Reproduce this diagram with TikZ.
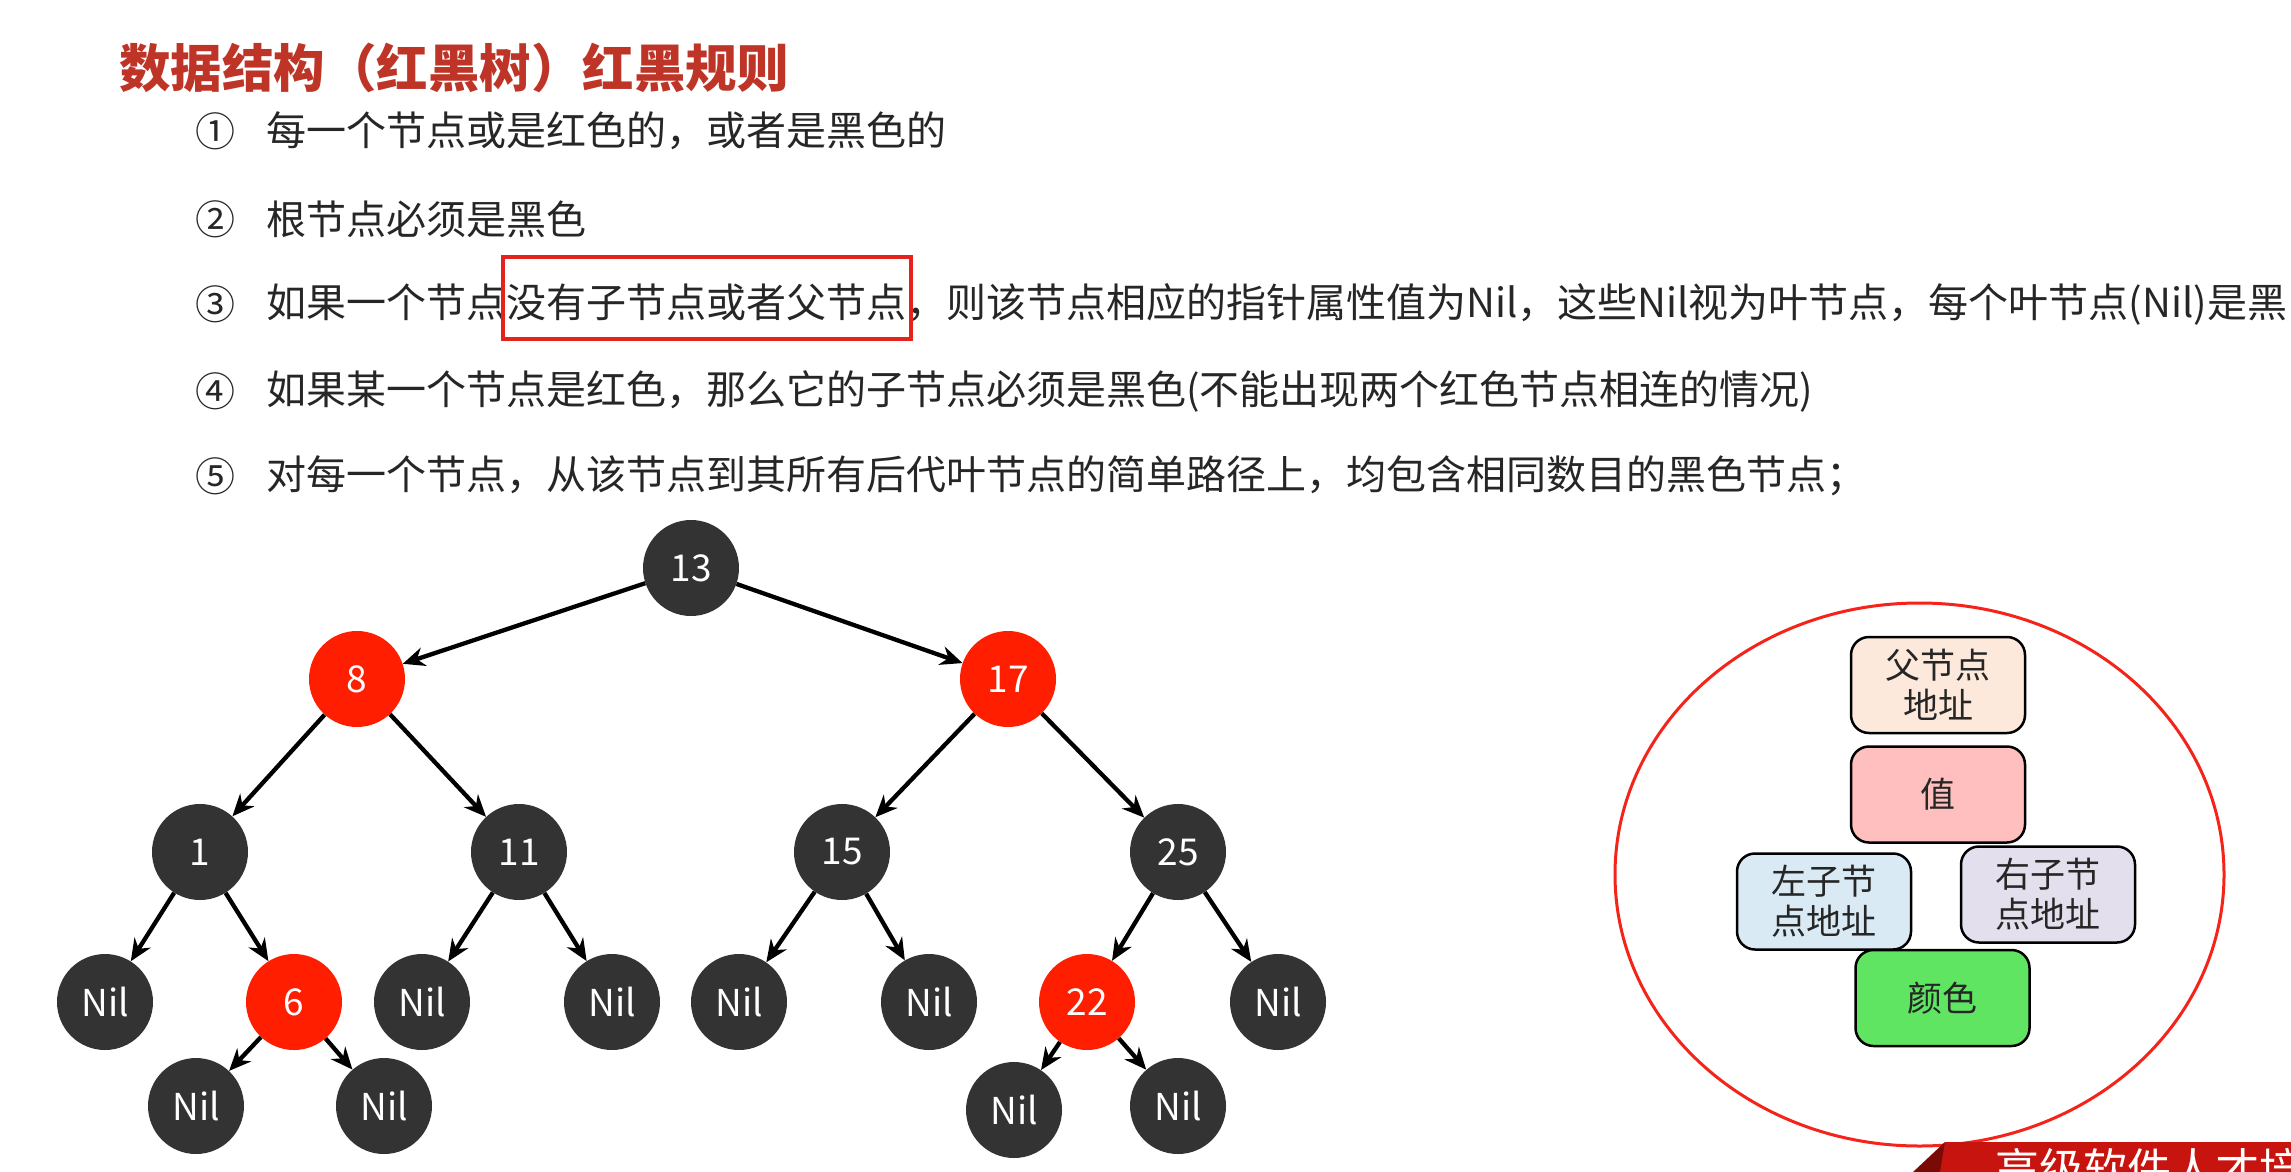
\documentclass[tikz,border=0pt]{standalone}
\usepackage{fontspec}
\setmainfont{Noto Sans CJK SC}
\usetikzlibrary{arrows.meta,shapes.geometric}
\definecolor{nodegray}{HTML}{333333}
\definecolor{nodered}{HTML}{FF1E00}
\definecolor{titlered}{HTML}{BE3528}
\definecolor{txtgray}{HTML}{262626}
\definecolor{boxred}{HTML}{E5221B}
\definecolor{ringred}{HTML}{F5241A}
\definecolor{cpeach}{HTML}{FDE9DC}
\definecolor{cpink}{HTML}{FFBFBF}
\definecolor{cblue}{HTML}{DAEAF4}
\definecolor{clav}{HTML}{E4DFEC}
\definecolor{cgreen}{HTML}{5FE562}
\definecolor{bannerred}{HTML}{C8140E}
\definecolor{bannerdark}{HTML}{7A0A06}
\begin{document}
\begin{tikzpicture}[x=1pt,y=-1pt,
  bnode/.style={circle,fill=nodegray,text=white,minimum size=96pt,inner sep=0pt,
    font=\fontsize{37}{37}\selectfont},
  rnode/.style={bnode,fill=nodered},
  arr/.style={-{Stealth[length=22pt,width=19pt]},line width=4.3pt,black},
  itemnum/.style={anchor=west,inner sep=0pt,text=txtgray,font=\fontsize{40}{40}\selectfont},
  itemtxt/.style={anchor=west,inner sep=0pt,text=txtgray,font=\fontsize{40}{40}\selectfont},
  fieldbox/.style={draw=black,line width=2.5pt,rounded corners=18pt,minimum width=174pt,
    minimum height=96pt,inner sep=0pt,align=center,text=txtgray,
    font=\fontsize{35}{40}\selectfont}
]
\useasboundingbox (0,0) rectangle (2291,1172);
\clip (0,0) rectangle (2291,1172);
\fill[white] (0,0) rectangle (2291,1172);

% title
\node[anchor=west,inner sep=0pt,text=titlered,font=\fontsize{51.5}{51.5}\selectfont\bfseries] (title) at (119,68) {数据结构（红黑树）红黑规则};

% rules
\node[itemnum] (c1) at (195,131) {①};
\node[itemtxt] (t1) at (266,131) {每一个节点或是红色的，或者是黑色的};
\node[itemnum] (c2) at (195,219) {②};
\node[itemtxt] (t2) at (266,219) {根节点必须是黑色};
\node[itemnum] (c3) at (195,304) {③};
\node[itemtxt] (t3) at (266,304) {如果一个节点没有子节点或者父节点，则该节点相应的指针属性值为Nil，这些Nil视为叶节点，每个叶节点(Nil)是黑};
\node[itemnum] (c4) at (195,391) {④};
\node[itemtxt] (t4) at (266,391) {如果某一个节点是红色，那么它的子节点必须是黑色(不能出现两个红色节点相连的情况)};
\node[itemnum] (c5) at (195,476) {⑤};
\node[itemtxt] (t5) at (266,476) {对每一个节点，从该节点到其所有后代叶节点的简单路径上，均包含相同数目的黑色节点；};

% highlight box
\node[draw=boxred,line width=4pt,minimum width=408pt,minimum height=82pt,inner sep=0pt] (hl) at (707,298) {};

% tree
\node[bnode] (n13) at (691,568) {13};
\node[rnode] (n8) at (357,679) {8};
\node[rnode] (n17) at (1008,679) {17};
\node[bnode] (n1) at (200,852) {1};
\node[bnode] (n11) at (519,852) {11};
\node[bnode] (n15) at (842,852) {15};
\node[bnode] (n25) at (1178,852) {25};
\node[bnode] (nilA) at (105,1002) {Nil};
\node[rnode] (n6) at (294,1002) {6};
\node[bnode] (nilB) at (422,1002) {Nil};
\node[bnode] (nilC) at (612,1002) {Nil};
\node[bnode] (nilD) at (739,1002) {Nil};
\node[bnode] (nilE) at (929,1002) {Nil};
\node[rnode] (n22) at (1087,1002) {22};
\node[bnode] (nilF) at (1278,1002) {Nil};
\node[bnode] (nilG) at (196,1106) {Nil};
\node[bnode] (nilH) at (384,1106) {Nil};
\node[bnode] (nilI) at (1014,1110) {Nil};
\node[bnode] (nilJ) at (1178,1106) {Nil};

\draw[arr] (n13) -- (n8);
\draw[arr] (n13) -- (n17);
\draw[arr] (n8) -- (n1);
\draw[arr] (n8) -- (n11);
\draw[arr] (n17) -- (n15);
\draw[arr] (n17) -- (n25);
\draw[arr] (n1) -- (nilA);
\draw[arr] (n1) -- (n6);
\draw[arr] (n11) -- (nilB);
\draw[arr] (n11) -- (nilC);
\draw[arr] (n15) -- (nilD);
\draw[arr] (n15) -- (nilE);
\draw[arr] (n25) -- (n22);
\draw[arr] (n25) -- (nilF);
\draw[arr] (n6) -- (nilG);
\draw[arr] (n6) -- (nilH);
\draw[arr] (n22) -- (nilI);
\draw[arr] (n22) -- (nilJ);

% node structure
\node[draw=ringred,line width=3pt,ellipse,minimum width=609pt,minimum height=543pt,inner sep=0pt] (ring) at (1919.5,874.5) {};
\node[fieldbox,fill=cpeach] (parent) at (1938,685) {父节点\\地址};
\node[fieldbox,fill=cpink] (val) at (1938,794.5) {值};
\node[fieldbox,fill=cblue] (lchild) at (1824,901.5) {左子节\\点地址};
\node[fieldbox,fill=clav] (rchild) at (2048,894.5) {右子节\\点地址};
\node[fieldbox,fill=cgreen] (color) at (1942.5,998) {颜色};

% banner
\fill[bannerdark] (1913,1172) -- (1945,1142) -- (1952,1172) -- cycle;
\fill[bannerred] (1945,1142) -- (2291,1142) -- (2291,1172) -- (1940,1172) -- cycle;
\node[anchor=north west,inner sep=0pt,text=white,font=\fontsize{44}{44}\selectfont] (banner) at (1995,1148) {高级软件人才培};
\end{tikzpicture}
\end{document}
